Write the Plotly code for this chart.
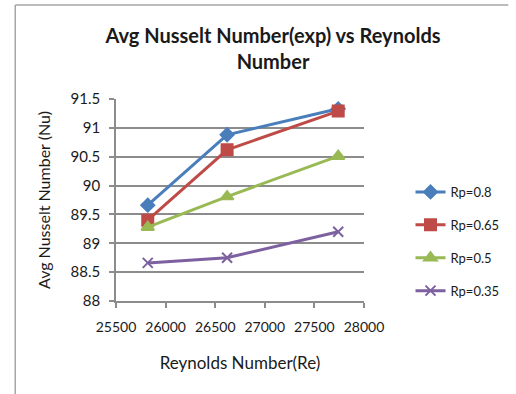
import plotly.graph_objects as go

# Reynolds numbers tested and averaged experimental Nusselt numbers per pitch ratio
reynolds = [25820, 26620, 27740]
nu_rp080 = [89.66, 90.88, 91.33]
nu_rp065 = [89.40, 90.62, 91.29]
nu_rp050 = [89.28, 89.81, 90.51]
nu_rp035 = [88.66, 88.75, 89.20]

series_names = ["Rp=0.8", "Rp=0.65", "Rp=0.5", "Rp=0.35"]
series_values = [nu_rp080, nu_rp065, nu_rp050, nu_rp035]
colors = ["#4A7EBB", "#BE4B48", "#98B954", "#7D60A0"]
symbols = ["diamond", "square", "triangle-up", "x-thin"]
sizes = [10, 11, 11, 10]

y_ticks = [88, 88.5, 89, 89.5, 90, 90.5, 91, 91.5]
x_ticks = [25500, 26000, 26500, 27000, 27500, 28000]

W, H = 516, 394
L, R, T, B = 116, 372, 99, 301

fig = go.Figure()
for name, vals, c, s, sz in zip(series_names, series_values, colors, symbols, sizes):
    fig.add_trace(go.Scatter(
        x=reynolds, y=vals, name=name, mode="lines+markers",
        line=dict(color=c, width=3),
        marker=dict(symbol=s, size=sz, color=c, line=dict(color=c, width=2)),
        legendgroup=name,
    ))

font = "Lato, 'Open Sans', sans-serif"
txt = "#1a1a1a"
axis_common = dict(
    showline=True, linecolor="#8c8c8c", linewidth=1.5,
    ticks="outside", tickcolor="#8c8c8c", ticklen=5, tickwidth=1.5,
    zeroline=False,
)

fig.update_layout(
    width=W, height=H,
    margin=dict(l=L, r=W - R, t=T, b=H - B),
    paper_bgcolor="white", plot_bgcolor="white",
    title=dict(
        text="<b>Avg Nusselt Number(exp) vs Reynolds<br>Number</b>",
        x=273 / W, xanchor="center", y=1 - 43 / H, yanchor="middle",
        font=dict(family=font, size=20, color=txt),
    ),
    xaxis=dict(
        range=[25500, 28000], tickvals=x_ticks, ticktext=[str(v) for v in x_ticks],
        showgrid=False,
        tickfont=dict(family=font, size=14, color=txt), ticklabelstandoff=7,
        title=dict(text="Reynolds Number(Re)", font=dict(family=font, size=17, color=txt), standoff=24),
        **axis_common,
    ),
    yaxis=dict(
        range=[88, 91.5], tickvals=y_ticks, ticktext=[f"{v:g}" for v in y_ticks],
        showgrid=True, gridcolor="#8c8c8c", gridwidth=1.5,
        tickfont=dict(family=font, size=15, color=txt), ticklabelstandoff=6,
        title=dict(text="Avg Nusselt Number (Nu)", font=dict(family=font, size=16, color=txt), standoff=16),
        **axis_common,
    ),
    legend=dict(
        x=(420 - L) / (R - L), xanchor="left",
        y=(B - 177) / (B - T), yanchor="top",
        font=dict(family=font, size=13, color=txt),
        tracegroupgap=13, itemwidth=30,
        bgcolor="rgba(0,0,0,0)",
    ),
    showlegend=True,
)

# outer chart frame (left and top edges visible in the window)
def px_x(p):
    return (p - L) / (R - L)

def px_y(p):
    return (B - p) / (B - T)

fig.add_shape(type="line", xref="paper", yref="paper",
              x0=px_x(12), x1=px_x(W + 5), y0=px_y(5), y1=px_y(5),
              line=dict(color="#a6a6a6", width=1.5))
fig.add_shape(type="line", xref="paper", yref="paper",
              x0=px_x(12), x1=px_x(12), y0=px_y(5), y1=px_y(H + 5),
              line=dict(color="#a6a6a6", width=1.5))

fig.write_html("out.html")
